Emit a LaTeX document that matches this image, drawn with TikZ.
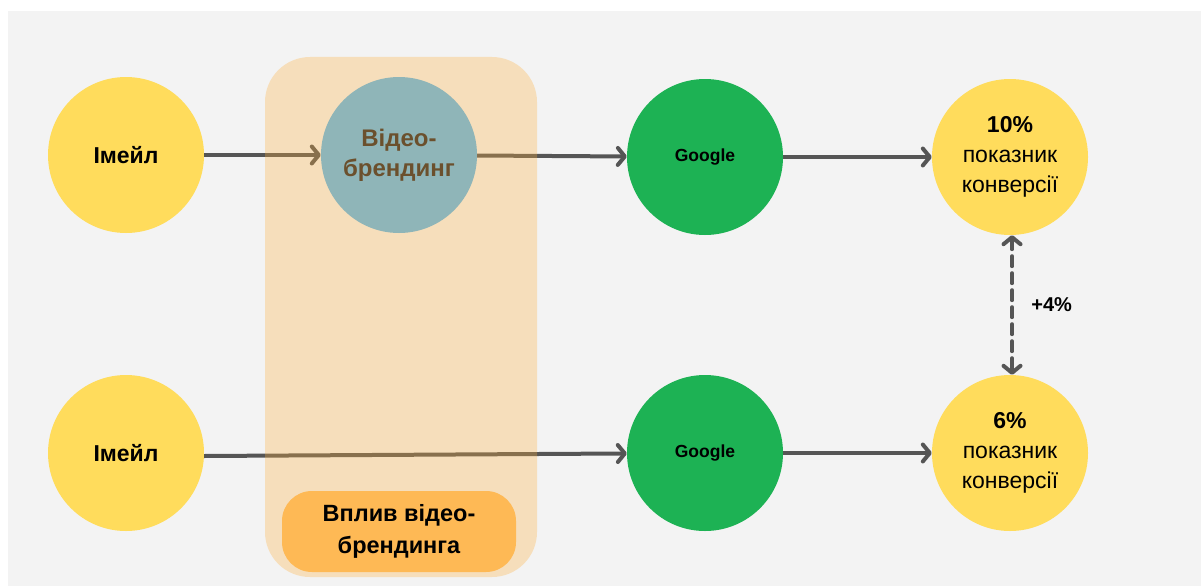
\documentclass[tikz,border=0pt]{standalone}
\usepackage{fontspec}
\setmainfont{Liberation Sans}
\usetikzlibrary{arrows.meta,backgrounds}
\tikzset{
  node-round/.style={
    circle,
    minimum size=156pt,
    inner sep=0pt,
    align=center
  },
  node-yellow/.style={
    node-round,
    fill=sunyellow,
    font=\fontsize{23}{30}\selectfont
  },
  node-green/.style={
    node-round,
    fill=googlegreen,
    font=\bfseries\fontsize{17.5}{20}\selectfont
  },
  node-teal/.style={
    node-round,
    fill=brandteal,
    text=brandbrown,
    font=\bfseries\fontsize{24}{30}\selectfont
  },
  flow/.style={
    line width=4pt,
    draw=arrowgray,
    line cap=round,
    -{Straight Barb[length=7pt,width=17pt,line cap=round,line join=round]}
  },
  flow-both/.style={
    flow,
    dash pattern=on 10pt off 7pt,
    {Straight Barb[length=7pt,width=17pt,line cap=round,line join=round]}-{Straight Barb[length=7pt,width=17pt,line cap=round,line join=round]}
  },
  band/.style={rounded corners=45pt, fill=bandorange, fill opacity=0.3, minimum width=272pt, minimum height=520pt},
  tag/.style={rounded corners=30pt, fill=tagorange, minimum width=234pt, minimum height=81pt, align=center, font=\bfseries\fontsize{23.5}{32}\selectfont}
}
\definecolor{sunyellow}{RGB}{255,220,92}
\definecolor{googlegreen}{RGB}{29,178,84}
\definecolor{brandteal}{RGB}{143,181,184}
\definecolor{brandbrown}{RGB}{107,80,45}
\definecolor{arrowgray}{RGB}{85,85,85}
\definecolor{bandorange}{RGB}{255,176,60}
\definecolor{tagorange}{RGB}{254,185,85}
\definecolor{pagegray}{RGB}{243,243,243}

\begin{document}
\begin{tikzpicture}[x=1pt, y=-1pt]
  \useasboundingbox (0,0) rectangle (1201,586);
  % top row
  \node[node-yellow, font=\bfseries\fontsize{23}{30}\selectfont] (mail-top) at (126,155) {Імейл};
  \node[node-teal] (video) at (399,155) {Відео-\\брендинг};
  \node[node-green] (google-top) at (705,157) {Google};
  \node[node-yellow] (rate-top) at (1010,157) {{\bfseries 10\%}\\показник\\конверсії};
  % bottom row
  \node[node-yellow, font=\bfseries\fontsize{23}{30}\selectfont] (mail-bot) at (126,453) {Імейл};
  \node[node-green] (google-bot) at (705,453) {Google};
  \node[node-yellow] (rate-bot) at (1010,453) {{\bfseries 6\%}\\показник\\конверсії};
  % label of the band
  \node[tag] (impact) at (399,531.5) {Вплив відео-\\брендинга};
  \begin{pgfonlayer}{background}
    \fill[pagegray] (8,11) rectangle (1201,586);
    % connectors
    \draw[flow] (mail-top) -- (video);
    \draw[flow] (video) -- (google-top);
    \draw[flow] (google-top) -- (rate-top);
    \draw[flow] ([yshift=-3pt]mail-bot.east) -- (google-bot);
    \draw[flow] (google-bot) -- (rate-bot);
    \draw[flow-both] ([xshift=2pt]rate-top.south) -- node[right=14pt, font=\bfseries\fontsize{20}{24}\selectfont] (gain) {+4\%} ([xshift=2pt]rate-bot.north);
    % video branding band
    \node[band] (band-area) at (401,317) {};
  \end{pgfonlayer}
\end{tikzpicture}
\end{document}
